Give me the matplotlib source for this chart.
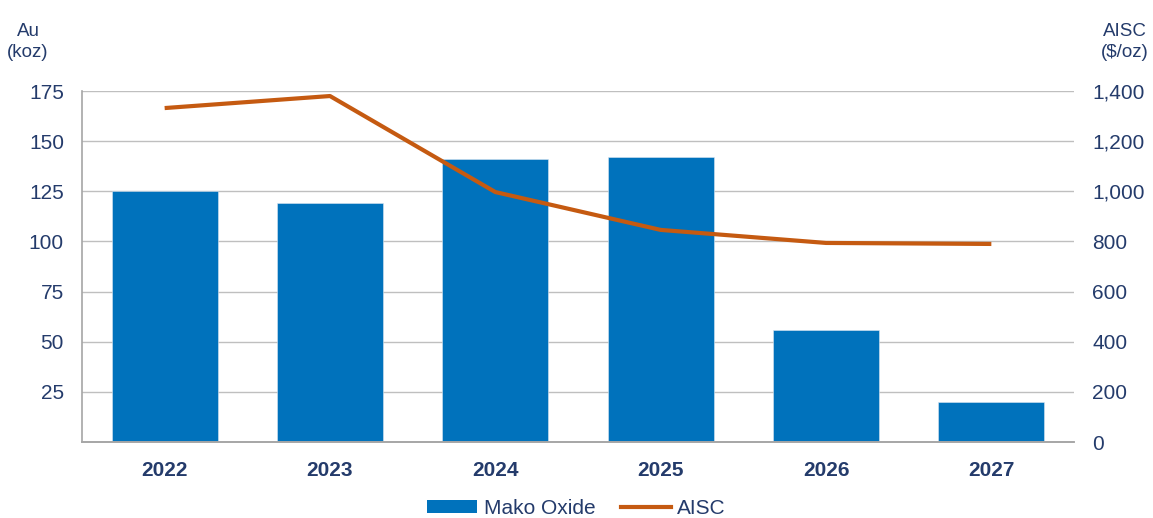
import matplotlib.pyplot as plt
from matplotlib.ticker import FuncFormatter
from matplotlib.patches import Patch
from matplotlib.lines import Line2D

plt.rcParams['font.family'] = ['Liberation Sans', 'DejaVu Sans']

years = ['2022', '2023', '2024', '2025', '2026', '2027']
mako_oxide = [125, 119, 141, 142, 56, 20]
aisc = [1332, 1380, 997, 846, 794, 790]

text_col = '#243B6B'
bar_col = '#0072BC'
line_col = '#C55A11'

fig = plt.figure(figsize=(11.53, 5.18), dpi=100)
ax = fig.add_axes([0.0711, 0.1467, 0.8604, 0.6776])
ax2 = ax.twinx()

x = list(range(len(years)))
ax.bar(x, mako_oxide, width=0.64, color=bar_col, edgecolor='#D9E6F2', linewidth=0.4, zorder=2)
ax.set_xlim(-0.5, len(years) - 0.5)
ax.set_ylim(0, 175)
ax.set_yticks([25, 50, 75, 100, 125, 150, 175])
ax.yaxis.grid(True, color='#BFBFBF', linewidth=1, zorder=0)
ax.set_axisbelow(True)
ax.set_xticks(x)
ax.set_xticklabels(years, fontsize=15, fontweight='bold', color=text_col)
ax.tick_params(axis='y', length=0, pad=13, labelsize=15, labelcolor=text_col)
ax.tick_params(axis='x', length=0, pad=14)

ax2.plot(x, aisc, color=line_col, linewidth=3, solid_capstyle='butt', zorder=3)
ax2.set_ylim(0, 1400)
ax2.set_yticks(range(0, 1401, 200))
ax2.yaxis.set_major_formatter(FuncFormatter(lambda v, p: f'{int(v):,}'))
ax2.tick_params(axis='y', length=0, pad=13, labelsize=15, labelcolor=text_col)

for a in (ax, ax2):
    a.spines['top'].set_visible(False)
    a.spines['right'].set_visible(False)
    a.spines['left'].set_color('#A6A6A6')
    a.spines['bottom'].set_color('#A6A6A6')
    a.spines['left'].set_linewidth(1.2)
    a.spines['bottom'].set_linewidth(1.2)
ax2.spines['left'].set_visible(False)

fig.text(28 / 1153, 1 - 42 / 518, 'Au\n(koz)', ha='center', va='center',
         fontsize=13.5, color=text_col, linespacing=1.3)
fig.text(1125 / 1153, 1 - 42 / 518, 'AISC\n($/oz)', ha='center', va='center',
         fontsize=13.5, color=text_col, linespacing=1.3)

handles = [Patch(facecolor=bar_col, edgecolor='none'),
           Line2D([0], [0], color=line_col, linewidth=3)]
fig.legend(handles, ['Mako Oxide', 'AISC'], loc='center', bbox_to_anchor=(0.5, 1 - 508 / 518),
           ncol=2, frameon=False, fontsize=15, labelcolor=text_col,
           handlelength=2.4, handleheight=0.6, handletextpad=0.33, columnspacing=1.2)

fig.savefig('out.png', dpi=100)
